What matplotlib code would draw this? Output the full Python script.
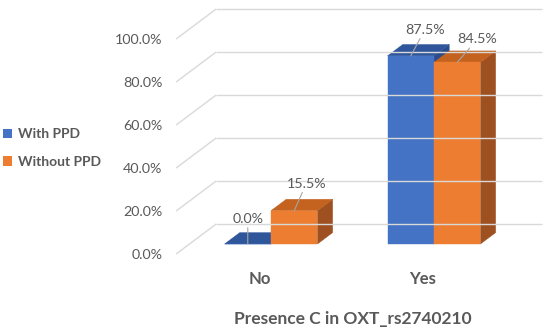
import matplotlib
matplotlib.use('Agg')
import matplotlib.pyplot as plt
from matplotlib.patches import Polygon, Patch

# ---- data ----
categories = ['No', 'Yes']
series_names = ['With PPD', 'Without PPD']
with_ppd = [0.0, 87.5]
without_ppd = [15.5, 84.5]
y_ticks = [0, 20, 40, 60, 80, 100]
y_tick_labels = ['0.0%', '20.0%', '40.0%', '60.0%', '80.0%', '100.0%']
x_title = 'Presence C in OXT_rs2740210'

# ---- style ----
FONT = 'Lato'
TXT = '#595959'
GRID = '#D9D9D9'
front_cols = ['#4472C4', '#ED7D31']
top_cols = ['#2F569B', '#C4631F']
side_cols = ['#2A4C8A', '#9E5020']

plt.rcParams['font.family'] = [FONT, 'DejaVu Sans']

fig = plt.figure(figsize=(5.5, 3.34), dpi=100)
ax = fig.add_axes([0, 0, 1, 1])
ax.set_xlim(-1.6626, 1.7117)
ax.set_ylim(-41.86, 113.49)
ax.axis('off')

# oblique projection parameters (depth units)
DX, DY = 0.2454, 13.95
Z_BACK, Z_FRONT = 0.667, -0.333
BAR_D, BAR_W = 0.38, 0.285


def P(x, v, z):
    return (x + z * DX, v + z * DY)


x_left, x_right = -0.5, len(categories) - 0.5

# gridlines: back wall + left diagonals
for t, lab in zip(y_ticks, y_tick_labels):
    bx0, by0 = P(x_left, t, Z_BACK)
    bx1, by1 = P(x_right, t, Z_BACK)
    fx, fy = P(x_left, t, Z_FRONT)
    ax.plot([bx0, bx1], [by0, by1], color=GRID, lw=1.0, solid_capstyle='butt')
    ax.plot([bx0, fx], [by0, fy], color=GRID, lw=1.0, solid_capstyle='butt')
    ax.annotate(lab, (fx, fy), xytext=(-14, -1), textcoords='offset pixels',
                ha='right', va='center', fontsize=10.3, color=TXT)

# bars
series = [with_ppd, without_ppd]
label_offsets = [[(0, 25), (12, 27)], [(14, 26), (20, 23)]]  # per category, per series
for i in range(len(categories)):
    for s, vals in enumerate(series):
        v = vals[i]
        x0 = i - BAR_W + s * BAR_W
        x1 = x0 + BAR_W
        side = [P(x1, 0, 0), P(x1, v, 0), P(x1, v, BAR_D), P(x1, 0, BAR_D)]
        top = [P(x0, v, 0), P(x1, v, 0), P(x1, v, BAR_D), P(x0, v, BAR_D)]
        front = [(x0, 0), (x1, 0), (x1, v), (x0, v)]
        for poly, col in ((side, side_cols[s]), (top, top_cols[s]), (front, front_cols[s])):
            ax.add_patch(Polygon(poly, closed=True, facecolor=col, edgecolor=col, lw=0.3))

for i in range(len(categories)):
    for s, vals in enumerate(series):
        v = vals[i]
        xc = i - BAR_W / 2 + s * BAR_W
        ax.annotate(f'{v:.1f}%', (xc, v), xytext=label_offsets[i][s],
                    textcoords='offset pixels', ha='center', va='center',
                    fontsize=10.3, color=TXT,
                    arrowprops=dict(arrowstyle='-', color='#A6A6A6', lw=0.8,
                                    shrinkA=0, shrinkB=0))

# category labels
for i, c in enumerate(categories):
    cx, cy = P(i, 0, Z_FRONT)
    ax.annotate(c, (cx, cy), xytext=(2, -25), textcoords='offset pixels',
                ha='center', va='center', fontsize=12, fontweight='bold', color=TXT)

# axis title
tx, ty = P((x_left + x_right) / 2, 0, 0)
ax.annotate(x_title, (tx, ty), xytext=(0, -75), textcoords='offset pixels',
            ha='center', va='center', fontsize=12.5, fontweight='bold', color=TXT)

# legend
handles = [Patch(facecolor=c, edgecolor='none') for c in front_cols]
leg = fig.legend(handles, series_names, loc='center left',
                 bbox_to_anchor=(0.005, 1 - 148 / 334), frameon=False,
                 borderaxespad=0, borderpad=0, handlelength=0.7, handleheight=0.7,
                 handletextpad=0.4, labelspacing=1.1,
                 prop={'family': FONT, 'weight': 'bold', 'size': 10})
for t in leg.get_texts():
    t.set_color(TXT)

fig.savefig('out.png', dpi=100)
